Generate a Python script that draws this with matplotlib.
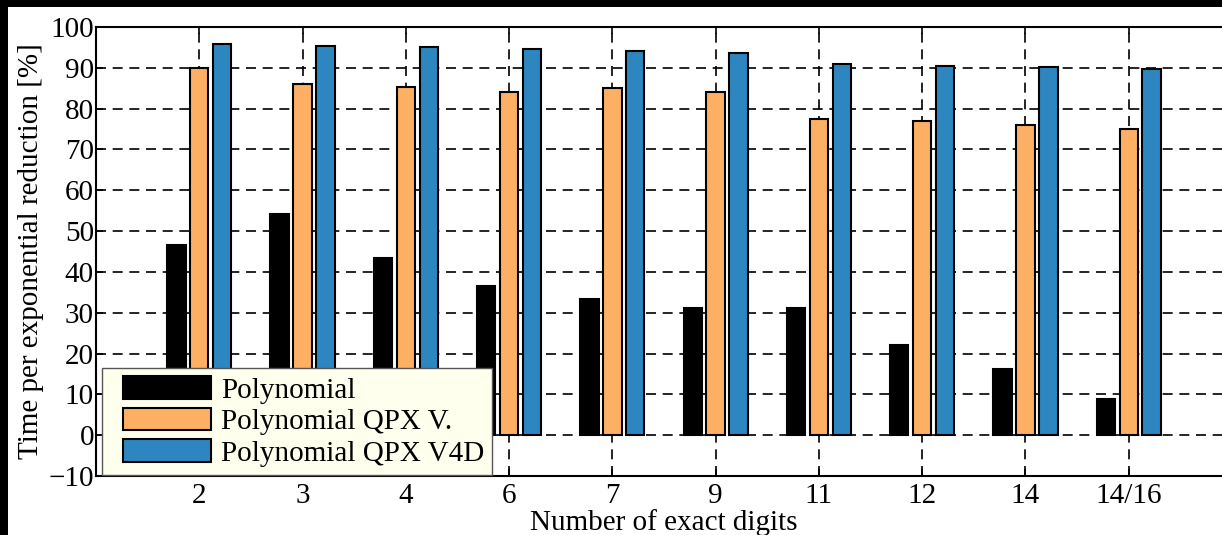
import matplotlib
matplotlib.use("Agg")
import matplotlib.pyplot as plt
import numpy as np
from matplotlib.patches import Rectangle
from matplotlib.legend_handler import HandlerPatch
from matplotlib.container import BarContainer

categories = ["2", "3", "4", "6", "7", "9", "11", "12", "14", "14/16"]
poly = [46.6, 54.2, 43.5, 36.6, 33.4, 31.2, 31.2, 22.1, 16.1, 8.8]
poly_qpx_v = [90.0, 86.0, 85.2, 84.1, 85.0, 84.1, 77.5, 76.9, 76.0, 75.1]
poly_qpx_v4d = [95.8, 95.3, 95.1, 94.6, 94.0, 93.7, 91.0, 90.5, 90.2, 89.8]
series_names = ["Polynomial", "Polynomial QPX V.", "Polynomial QPX V4D"]
colors = ["#000000", "#FDB063", "#2E86C1"]

plt.rcParams['font.family'] = ['Liberation Serif', 'DejaVu Serif']
FS = 21

W, H = 1222, 535
fig = plt.figure(figsize=(W / 100, H / 100), dpi=100)
fig.patch.set_facecolor('black')
bg = Rectangle((8 / W, 0), 1 - 8 / W, 1 - 7 / H, transform=fig.transFigure,
               facecolor='white', edgecolor='none', zorder=-10)
fig.patches.append(bg)

ax = fig.add_axes([96 / W, 59 / H, 1136 / W, 449 / H])
ax.set_facecolor('white')

x = np.arange(1, len(categories) + 1)
off = 0.222
w = 0.178
for i, (vals, c, name) in enumerate(zip([poly, poly_qpx_v, poly_qpx_v4d], colors, series_names)):
    ax.bar(x + (i - 1) * off, vals, width=w, color=c, edgecolor='black', linewidth=1.5,
           label=name, zorder=3)

ax.set_xlim(0, 11)
ax.set_ylim(-10, 100)
ax.set_yticks(np.arange(-10, 101, 10))
ax.set_yticklabels([("\u2212" + str(-v)) if v < 0 else str(v) for v in range(-10, 101, 10)])
ax.set_xticks(x)
ax.set_xticklabels(categories)
ax.tick_params(axis='both', direction='in', labelsize=FS, length=5, width=1.2,
               top=True, right=True)
ax.tick_params(axis='x', pad=5)
ax.tick_params(axis='y', pad=1.5)
ax.grid(True, color='black', linestyle=(0, (6, 4)), linewidth=1.2, zorder=0)
ax.set_axisbelow(True)
for s in ax.spines.values():
    s.set_linewidth(1.5)

ax.set_xlabel("Number of exact digits", fontsize=FS, labelpad=0)
ax.set_ylabel("Time per exponential reduction [%]", fontsize=FS, labelpad=3)


def make_patch(legend, orig_handle, xdescent, ydescent, width, height, fontsize):
    shift = 9
    return Rectangle((-xdescent + shift, -ydescent), width - shift, height)


def upd(legend_handle, orig_handle):
    legend_handle.update_from(orig_handle.patches[0])


leg = ax.legend(loc='upper left', bbox_to_anchor=(102 / W, 1 - 368 / H),
                bbox_transform=fig.transFigure, borderaxespad=0, fontsize=FS,
                handlelength=3.45, handleheight=0.82, labelspacing=0.14,
                handletextpad=0.35, borderpad=0.28, fancybox=False, framealpha=1,
                handler_map={BarContainer: HandlerPatch(patch_func=make_patch, update_func=upd)})
leg.get_frame().set_facecolor('#FFFFEE')
leg.get_frame().set_edgecolor('#555555')
leg.get_frame().set_linewidth(1.0)
leg.set_zorder(5)

fig.savefig("out.png", dpi=100, facecolor=fig.get_facecolor())
